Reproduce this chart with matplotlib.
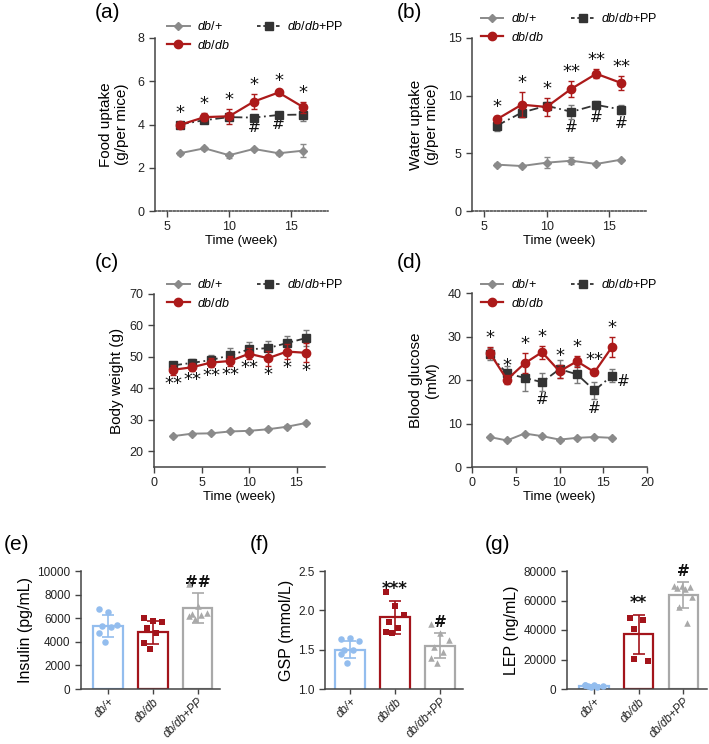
import matplotlib
matplotlib.use('Agg')
import matplotlib.pyplot as plt
import numpy as np
from matplotlib.lines import Line2D

plt.rcParams['font.family'] = ['Liberation Sans', 'DejaVu Sans']
plt.rcParams['mathtext.fontset'] = 'custom'
plt.rcParams['mathtext.rm'] = 'Liberation Sans'
plt.rcParams['mathtext.it'] = 'Liberation Sans:italic'

# ---------------- data ----------------
weeks_ab = [6, 8, 10, 12, 14, 16]
food_dbp = [2.67, 2.90, 2.58, 2.87, 2.67, 2.79]
food_dbp_err = [0.08, 0.08, 0.12, 0.06, 0.06, 0.30]
food_dbdb = [3.98, 4.34, 4.38, 5.06, 5.48, 4.80]
food_dbdb_err = [0.12, 0.20, 0.35, 0.35, 0.10, 0.25]
food_pp = [4.00, 4.20, 4.34, 4.32, 4.44, 4.46]
food_pp_err = [0.12, 0.12, 0.10, 0.05, 0.05, 0.30]
food_sig_top = ['*', '*', '*', '*', '*', '*']
food_sig_bot = ['', '', '', '#', '#', '']

water_dbp = [4.02, 3.90, 4.19, 4.36, 4.08, 4.45]
water_dbp_err = [0.10, 0.10, 0.50, 0.30, 0.10, 0.10]
water_dbdb = [7.95, 9.22, 9.02, 10.60, 11.90, 11.10]
water_dbdb_err = [0.30, 1.10, 0.80, 0.70, 0.40, 0.60]
water_pp = [7.40, 8.53, 9.13, 8.60, 9.20, 8.80]
water_pp_err = [0.50, 0.40, 0.30, 0.60, 0.30, 0.40]
water_sig_top = ['*', '*', '*', '**', '**', '**']
water_sig_bot = ['', '', '', '#', '#', '#']

weeks_cd = [2, 4, 6, 8, 10, 12, 14, 16]
bw_dbp = [24.8, 25.6, 25.7, 26.3, 26.5, 27.0, 27.8, 29.0]
bw_dbp_err = [0.3, 0.3, 0.3, 0.3, 0.3, 0.3, 0.4, 0.4]
bw_dbdb = [45.9, 46.7, 48.2, 48.7, 51.0, 49.6, 51.7, 51.3]
bw_dbdb_err = [1.5, 1.3, 1.3, 1.7, 1.8, 2.4, 2.4, 3.0]
bw_pp = [47.3, 48.1, 49.0, 50.5, 52.4, 52.8, 54.4, 56.0]
bw_pp_err = [1.0, 1.2, 1.5, 2.2, 2.2, 2.2, 2.4, 2.5]
bw_sig_bot = ['**', '**', '**', '**', '**', '*', '*', '*']

glu_dbp = [6.9, 6.1, 7.7, 7.1, 6.3, 6.7, 6.9, 6.7]
glu_dbp_err = [0.2, 0.2, 0.2, 0.2, 0.2, 0.2, 0.2, 0.2]
glu_dbdb = [26.3, 20.1, 23.8, 26.4, 22.0, 24.3, 21.8, 27.6]
glu_dbdb_err = [1.2, 1.0, 2.3, 1.5, 1.5, 1.2, 0.7, 2.4]
glu_pp = [25.9, 21.5, 20.5, 19.5, 22.5, 21.3, 17.6, 21.0]
glu_pp_err = [1.4, 1.8, 3.0, 2.0, 2.0, 2.0, 2.0, 1.5]
glu_sig_top = ['*', '*', '*', '*', '*', '*', '**', '*']
glu_sig_bot = ['', '', '', '#', '', '', '#', '#']

groups = ['db/+', 'db/db', 'db/db+PP']

ins_dbp = [6780, 6500, 5420, 5340, 5230, 4770, 3980]
ins_dbdb = [6050, 5760, 5680, 5170, 4770, 3870, 3360]
ins_pp = [8900, 7000, 6400, 6350, 6250, 6150, 5900]
ins_mean = [5340, 4800, 6860]
ins_sd = [950, 1000, 1300]
ins_sig = ['', '', '##']

gsp_dbp = [1.63, 1.65, 1.61, 1.50, 1.50, 1.45, 1.33]
gsp_dbdb = [2.23, 2.06, 1.94, 1.85, 1.77, 1.72, 1.71]
gsp_pp = [1.82, 1.71, 1.62, 1.54, 1.47, 1.40, 1.33]
gsp_mean = [1.50, 1.91, 1.55]
gsp_sd = [0.11, 0.21, 0.16]
gsp_sig = ['', '***', '#']

lep_dbp = [3000, 2600, 2200, 1800, 1500, 2400, 1200]
lep_dbdb = [48000, 46500, 41000, 20500, 19200]
lep_pp = [70000, 69500, 69000, 68500, 68000, 62500, 55800, 44500]
lep_mean = [1900, 37000, 63700]
lep_sd = [600, 13500, 8800]
lep_sig = ['', '**', '#']

# ---------------- style ----------------
C_GRAY = '#8a8a8a'
C_RED = '#ac1a1a'
C_DARK = '#333333'
C_PPERR = '#7a7a7a'
BAR_COLS = ['#93bdee', '#a3141b', '#a9a9a9']
BAR_MARK = ['o', 's', '^']
AX_COL = '#444444'

W, H = 709, 744
fig = plt.figure(figsize=(W / 100, H / 100), dpi=100)


def add_ax(l, r, t, b):
    return fig.add_axes([l / W, 1 - b / H, (r - l) / W, (b - t) / H])


def style_ax(ax, dotted_bottom=False):
    for s in ['top', 'right']:
        ax.spines[s].set_visible(False)
    for s in ['left', 'bottom']:
        ax.spines[s].set_color(AX_COL)
        ax.spines[s].set_linewidth(1.1)
    if dotted_bottom:
        ax.spines['bottom'].set_linestyle((0, (1.2, 1.2)))
    ax.tick_params(direction='out', length=4, width=1.0, color=AX_COL,
                   labelsize=9, labelcolor='#222222')


def line_panel(ax, x, dbp, dbp_e, dbdb, dbdb_e, pp, pp_e):
    ax.errorbar(x, dbp, yerr=dbp_e, color=C_GRAY, marker='D', ms=4, lw=1.4,
                capsize=2.5, elinewidth=1, clip_on=False, zorder=3)
    ax.errorbar(x, pp, yerr=pp_e, color=C_DARK, ecolor=C_PPERR, marker='s', ms=6,
                lw=1.3, ls=(0, (5, 2, 1, 2)), capsize=2.5, elinewidth=1,
                clip_on=False, zorder=4)
    ax.errorbar(x, dbdb, yerr=dbdb_e, color=C_RED, marker='o', ms=6, lw=1.6,
                capsize=2.5, elinewidth=1, clip_on=False, zorder=5)


def add_legend(ax, x0, y0):
    h = [Line2D([], [], color=C_GRAY, marker='D', ms=4, lw=1.4),
         Line2D([], [], color=C_RED, marker='o', ms=6, lw=1.6),
         Line2D([], [], color=C_DARK, marker='s', ms=6, lw=1.3, ls=(0, (2, 1.5)))]
    labels = [r'$\mathit{db/{+}}$', r'$\mathit{db/db}$', r'$\mathit{db/db}$+PP']
    fig.legend(h, labels, ncol=2, loc='upper left', bbox_to_anchor=(x0 / W, 1 - y0 / H),
               frameon=False, fontsize=9, handlelength=1.8, handletextpad=0.6,
               columnspacing=2.2, labelspacing=0.45, borderaxespad=0, borderpad=0)


def annotate(ax, x, y, errs, sigs, above=True, off=2, fs=12, color='#111111'):
    for xi, yi, ei, s in zip(x, y, errs, sigs):
        if not s:
            continue
        if above:
            ax.annotate(s, (xi, yi + ei), xytext=(0, off), textcoords='offset points',
                        ha='center', va='bottom', fontsize=fs, color=color,
                        family='DejaVu Sans', annotation_clip=False)
        else:
            ax.annotate(s, (xi, yi - ei), xytext=(0, -off), textcoords='offset points',
                        ha='center', va='top', fontsize=fs, color=color,
                        family='DejaVu Sans', annotation_clip=False)


# ---------- (a) ----------
ax = add_ax(155, 328, 38, 211)
style_ax(ax, dotted_bottom=True)
line_panel(ax, weeks_ab, food_dbp, food_dbp_err, food_dbdb, food_dbdb_err, food_pp, food_pp_err)
ax.set_xlim(4, 18)
ax.set_ylim(0, 8)
ax.set_xticks([5, 10, 15])
ax.set_yticks([0, 2, 4, 6, 8])
ax.set_xlabel('Time (week)', fontsize=9.5, labelpad=1)
ax.set_ylabel('Food uptake\n(g/per mice)', fontsize=11, labelpad=6)
annotate(ax, weeks_ab, food_dbdb, food_dbdb_err, food_sig_top, True, 0, 13)
annotate(ax, weeks_ab, food_pp, food_pp_err, food_sig_bot, False, 1, 11)
add_legend(ax, 167, 20)
fig.text(95 / W, 1 - 13 / H, '(a)', fontsize=15, va='center')

# ---------- (b) ----------
ax = add_ax(472, 646, 38, 211)
style_ax(ax, dotted_bottom=True)
line_panel(ax, weeks_ab, water_dbp, water_dbp_err, water_dbdb, water_dbdb_err, water_pp, water_pp_err)
ax.set_xlim(4, 18)
ax.set_ylim(0, 15)
ax.set_xticks([5, 10, 15])
ax.set_yticks([0, 5, 10, 15])
ax.set_xlabel('Time (week)', fontsize=9.5, labelpad=1)
ax.set_ylabel('Water uptake\n(g/per mice)', fontsize=11, labelpad=6)
annotate(ax, weeks_ab, water_dbdb, water_dbdb_err, water_sig_top, True, 0, 13)
annotate(ax, weeks_ab, water_pp, water_pp_err, water_sig_bot, False, 1, 11)
add_legend(ax, 481, 12)
fig.text(397 / W, 1 - 13 / H, '(b)', fontsize=15, va='center')

# ---------- (c) ----------
ax = add_ax(154, 325, 294, 467)
style_ax(ax)
line_panel(ax, weeks_cd, bw_dbp, bw_dbp_err, bw_dbdb, bw_dbdb_err, bw_pp, bw_pp_err)
ax.set_xlim(0, 18)
ax.set_ylim(15, 70)
ax.set_xticks([0, 5, 10, 15])
ax.set_yticks([20, 30, 40, 50, 60, 70])
ax.set_xlabel('Time (week)', fontsize=9.5, labelpad=1)
ax.set_ylabel('Body weight (g)', fontsize=11, labelpad=4)
annotate(ax, weeks_cd, bw_dbdb, bw_dbdb_err, bw_sig_bot, False, 0, 13)
add_legend(ax, 167, 278)
fig.text(95 / W, 1 - 262 / H, '(c)', fontsize=15, va='center')

# ---------- (d) ----------
ax = add_ax(472, 647, 293, 467)
style_ax(ax)
line_panel(ax, weeks_cd, glu_dbp, glu_dbp_err, glu_dbdb, glu_dbdb_err, glu_pp, glu_pp_err)
ax.set_xlim(0, 20)
ax.set_ylim(0, 40)
ax.set_xticks([0, 5, 10, 15, 20])
ax.set_yticks([0, 10, 20, 30, 40])
ax.set_xlabel('Time (week)', fontsize=9.5, labelpad=1)
ax.set_ylabel('Blood glucose\n(mM)', fontsize=11, labelpad=6)
annotate(ax, weeks_cd, glu_dbdb, glu_dbdb_err, glu_sig_top, True, 0, 13)
annotate(ax, weeks_cd[:-1], glu_pp[:-1], glu_pp_err[:-1], glu_sig_bot[:-1], False, 1, 11)
# last '#' sits to the right of the point
ax.annotate(glu_sig_bot[-1], (weeks_cd[-1], glu_pp[-1]), xytext=(8, -4),
            textcoords='offset points', ha='center', va='center', fontsize=11,
            family='DejaVu Sans', color='#111111', annotation_clip=False)
add_legend(ax, 481, 278)
fig.text(397 / W, 1 - 262 / H, '(d)', fontsize=15, va='center')


# ---------- bar panels ----------
def bar_panel(ax, pts_list, means, sds, sigs, ylim, yticks, ylabel, xl):
    style_ax(ax)
    xs = np.arange(len(groups))
    for i in range(len(groups)):
        ax.bar(xs[i], means[i], width=0.66, facecolor='white', edgecolor=BAR_COLS[i],
               linewidth=1.6, zorder=2)
        ax.errorbar(xs[i], means[i], yerr=sds[i], color=BAR_COLS[i], capsize=4,
                    elinewidth=1.2, capthick=1.2, zorder=3)
        pts = pts_list[i]
        n = len(pts)
        jit = np.linspace(-0.2, 0.2, n)
        order = [0, 3, 6, 1, 4, 7, 2, 5][:n]
        jit = np.array([jit[o % n] for o in order])
        ax.scatter(xs[i] + jit, pts, marker=BAR_MARK[i], s=22, color=BAR_COLS[i],
                   zorder=4, linewidths=0, clip_on=False)
        if sigs[i]:
            ax.annotate(sigs[i], (xs[i], means[i] + sds[i]), xytext=(0, 2),
                        textcoords='offset points', ha='center', va='bottom',
                        fontsize=12 if '*' in sigs[i] else 11, color='#111111',
                        family='DejaVu Sans', fontweight='bold', annotation_clip=False)
    ax.set_xlim(*xl)
    ax.set_ylim(*ylim)
    ax.set_yticks(yticks)
    ax.set_xticks(xs)
    ax.set_xticklabels(groups, rotation=45, ha='right', rotation_mode='anchor',
                       fontsize=8.3, style='italic')
    ax.tick_params(axis='x', length=3.5, pad=1.5)
    ax.tick_params(axis='y', labelsize=8.5)
    ax.set_ylabel(ylabel, fontsize=11.5, labelpad=3)


ax = add_ax(81, 220, 571, 689)
bar_panel(ax, [ins_dbp, ins_dbdb, ins_pp], ins_mean, ins_sd, ins_sig, (0, 10000),
          [0, 2000, 4000, 6000, 8000, 10000], 'Insulin (pg/mL)', (-0.6, 2.5))
fig.text(4 / W, 1 - 545 / H, '(e)', fontsize=15, va='center')

ax = add_ax(325, 463, 571, 689)
bar_panel(ax, [gsp_dbp, gsp_dbdb, gsp_pp], gsp_mean, gsp_sd, gsp_sig, (1.0, 2.5),
          [1.0, 1.5, 2.0, 2.5], 'GSP (mmol/L)', (-0.55, 2.5))
fig.text(250 / W, 1 - 545 / H, '(f)', fontsize=15, va='center')

ax = add_ax(567, 707, 571, 689)
bar_panel(ax, [lep_dbp, lep_dbdb, lep_pp], lep_mean, lep_sd, lep_sig, (0, 80000),
          [0, 20000, 40000, 60000, 80000], 'LEP (ng/mL)', (-0.6, 2.53))
fig.text(485 / W, 1 - 545 / H, '(g)', fontsize=15, va='center')

fig.savefig('out.png', dpi=100)
